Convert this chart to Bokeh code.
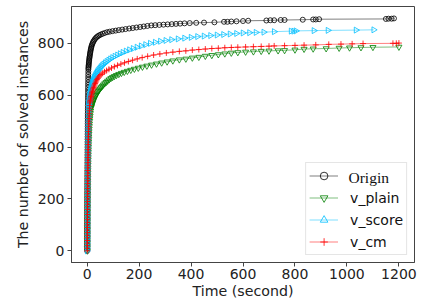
import numpy as np
from bokeh.plotting import figure
from bokeh.models import (Range1d, FixedTicker, Legend, LegendItem,
                          ColumnDataSource, Label)
from bokeh.embed import file_html
from bokeh.resources import INLINE

# ---- data: (time in seconds, cumulative number of solved instances) ----
origin_pts = [
    (0.1, 0), (0.1, 10), (0.1, 20), (0.2, 30), (0.2, 40), (0.2, 50), (0.2, 60), (0.3, 70), (0.3, 80), (0.3, 90), (0.3, 100),
    (0.4, 110), (0.4, 120), (0.4, 130), (0.5, 140), (0.5, 150), (0.5, 160), (0.6, 170), (0.6, 180), (0.6, 190), (0.7, 200),
    (0.7, 210), (0.7, 220), (0.8, 230), (0.8, 240), (0.9, 250), (0.9, 260), (1.0, 270), (1.0, 280), (1.1, 290), (1.1, 300),
    (1.2, 310), (1.2, 320), (1.3, 330), (1.3, 340), (1.4, 350), (1.4, 360), (1.5, 370), (1.6, 380), (1.6, 390), (1.7, 400),
    (1.8, 410), (1.8, 420), (1.9, 430), (2.0, 440), (2.0, 450), (2.1, 460), (2.2, 470), (2.3, 480), (2.3, 490), (2.4, 500),
    (2.5, 510), (2.6, 520), (2.7, 530), (2.8, 540), (2.9, 550), (3.0, 560), (3.1, 570), (3.2, 580), (3.3, 590), (3.4, 600),
    (3.5, 610), (3.6, 620), (3.7, 630), (3.9, 640), (4.0, 650), (4.2, 660), (4.3, 670), (4.5, 680), (4.7, 690), (4.9, 700),
    (5.2, 705), (5.6, 710), (6.0, 715), (6.4, 720), (6.9, 725), (7.4, 730), (8.0, 735), (8.6, 740), (9.2, 745), (9.9, 750),
    (10.6, 755), (11.4, 760), (12.2, 765), (13, 770), (14, 775), (15, 780), (16, 785), (17.5, 790), (19, 795), (21, 800),
    (23, 805), (26, 810), (29, 815), (33, 820), (37, 824), (42, 828), (47, 831), (53, 834), (60, 837), (68, 840),
    (77, 843), (87, 845), (98, 847), (110, 849), (122, 851), (135, 853), (148, 855), (162, 857), (176, 859), (190, 861),
    (204, 863), (218, 865), (232, 867), (247, 869), (262, 870), (278, 871), (294, 872), (310, 873), (326, 874), (342, 875),
    (358, 876), (375, 877), (395, 878), (420, 879), (450, 880), (490, 881), (527, 883), (540, 883), (555, 884), (575, 885),
    (600, 886), (620, 887), (690, 888), (705, 889), (720, 889), (745, 890), (760, 890), (830, 891), (870, 892), (880, 892),
    (893, 893), (1150, 894), (1160, 895), (1172, 895), (1181, 896),
]

plain_pts = [
    (1.0, 0), (1.0, 10), (1.1, 20), (1.1, 30), (1.2, 40), (1.2, 50), (1.3, 60), (1.3, 70), (1.4, 80), (1.4, 90), (1.5, 100),
    (1.5, 110), (1.6, 120), (1.7, 130), (1.7, 140), (1.8, 150), (1.9, 160), (2.0, 170), (2.0, 180), (2.1, 190), (2.2, 200),
    (2.3, 210), (2.4, 220), (2.5, 230), (2.6, 240), (2.7, 250), (2.8, 260), (2.9, 270), (3.0, 280), (3.2, 290), (3.3, 300),
    (3.5, 310), (3.6, 320), (3.8, 330), (4.0, 340), (4.2, 350), (4.4, 360), (4.6, 370), (4.8, 380), (5.1, 390), (5.4, 400),
    (5.7, 410), (6.0, 420), (6.4, 430), (6.8, 440), (7.2, 450), (7.7, 460), (8.2, 470), (8.8, 480), (9.4, 490), (10.1, 500),
    (10.9, 510), (11.8, 520), (12.8, 530), (13.9, 540), (15.1, 550),
    (16.4, 555), (17.8, 560), (19.3, 565), (21, 570), (22.8, 575), (24.7, 580), (26.7, 585), (28.9, 590), (31.2, 595), (33.7, 600),
    (36.4, 605), (39.3, 610), (42.5, 615), (46, 620), (50, 625), (54, 630), (58.5, 635), (63, 640), (68, 645), (73.5, 650),
    (79, 655), (85, 660), (91.5, 665), (98, 669), (105, 673), (113, 677), (122, 681), (132, 685), (143, 689), (155, 693),
    (168, 697), (182, 701), (197, 705), (213, 709), (230, 713), (248, 717), (267, 721), (287, 725), (308, 729), (330, 733),
    (355, 737), (380, 740), (405, 744), (430, 747), (455, 751), (480, 754), (505, 757), (530, 760), (555, 763), (580, 765),
    (610, 767), (640, 768), (670, 770), (700, 771), (735, 772), (760, 773), (800, 775), (835, 778), (870, 779), (920, 780),
    (970, 782), (1010, 783), (1054, 784), (1100, 785), (1200, 786),
]

score_pts = [
    (0.3, 0), (0.3, 10), (0.3, 20), (0.4, 30), (0.4, 40), (0.4, 50), (0.5, 60), (0.5, 70), (0.5, 80), (0.6, 90), (0.6, 100),
    (0.6, 110), (0.7, 120), (0.7, 130), (0.8, 140), (0.8, 150), (0.9, 160), (0.9, 170), (1.0, 180), (1.0, 190), (1.1, 200),
    (1.1, 210), (1.2, 220), (1.2, 230), (1.3, 240), (1.4, 250), (1.4, 260), (1.5, 270), (1.6, 280), (1.6, 290), (1.7, 300),
    (1.8, 310), (1.9, 320), (1.9, 330), (2.0, 340), (2.1, 350), (2.2, 360), (2.3, 370), (2.4, 380), (2.5, 390), (2.6, 400),
    (2.7, 410), (2.8, 420), (2.9, 430), (3.0, 440), (3.2, 450), (3.3, 460), (3.4, 470), (3.6, 480), (3.7, 490), (3.9, 500),
    (4.1, 510), (4.3, 520), (4.5, 530), (4.8, 540), (5.1, 550), (5.4, 560),
    (5.8, 565), (6.2, 570), (6.7, 575), (7.2, 580), (7.8, 585), (8.4, 590), (9.0, 595), (9.7, 600), (10.5, 605), (11.3, 610),
    (12.2, 615), (13.1, 620), (14.1, 625), (15.2, 630), (16.4, 635), (17.7, 640), (19, 645), (20.5, 650), (22, 655), (24, 660),
    (26, 665), (28, 670), (30.5, 675), (33, 680), (36, 685), (39, 690), (42, 695), (46, 700), (50, 705), (54, 710),
    (59, 715), (64, 720), (70, 725), (76, 730), (83, 735), (90, 740), (98, 745), (107, 750), (117, 755), (127, 760),
    (138, 765), (150, 770), (163, 775), (177, 780), (192, 785), (208, 790), (225, 795), (243, 800), (262, 804), (282, 808),
    (303, 811), (325, 814), (350, 817), (375, 820), (400, 823), (425, 826), (450, 828), (475, 830), (500, 832), (525, 834),
    (550, 836), (575, 838), (600, 840), (625, 841), (650, 842), (680, 843), (720, 845), (785, 847), (795, 847), (804, 848),
    (873, 849), (927, 850), (1035, 851), (1103, 852),
]

cm_pts = [
    (0.8, 0), (0.8, 10), (0.9, 20), (0.9, 30), (1.0, 40), (1.0, 50), (1.1, 60), (1.1, 70), (1.2, 80), (1.2, 90), (1.3, 100),
    (1.3, 110), (1.4, 120), (1.4, 130), (1.5, 140), (1.5, 150), (1.6, 160), (1.7, 170), (1.7, 180), (1.8, 190), (1.9, 200),
    (2.0, 210), (2.0, 220), (2.1, 230), (2.2, 240), (2.3, 250), (2.4, 260), (2.5, 270), (2.6, 280), (2.7, 290), (2.8, 300),
    (2.9, 310), (3.0, 320), (3.1, 330), (3.3, 340), (3.4, 350), (3.5, 360), (3.7, 370), (3.8, 380), (4.0, 390), (4.2, 400),
    (4.4, 410), (4.6, 420), (4.8, 430), (5.0, 440), (5.3, 450), (5.6, 460), (5.9, 470), (6.2, 480), (6.5, 490), (6.9, 500),
    (7.3, 510), (7.7, 520), (8.2, 530), (8.7, 540), (9.3, 550), (10, 560), (10.8, 570),
    (11.6, 575), (12.5, 580), (13.4, 585), (14.4, 590), (15.4, 595), (16.5, 600), (17.7, 605), (19, 610), (20.4, 615), (22, 620),
    (23.6, 625), (25.3, 630), (27, 635), (29, 640), (31, 645), (33, 650), (35.5, 655), (38, 660), (41, 665), (44.5, 670),
    (49, 675), (54, 680), (60, 685), (67, 690), (75, 695), (84, 700), (94, 705), (105, 710), (117, 715), (130, 720),
    (144, 725), (159, 730), (175, 735), (193, 740), (212, 745), (233, 750), (256, 755), (280, 759), (305, 763), (330, 766),
    (355, 769), (380, 771), (405, 774), (430, 776), (455, 778), (480, 780), (505, 781), (530, 783), (555, 784), (580, 785),
    (610, 786), (640, 787), (670, 788), (700, 789), (720, 790), (760, 791), (800, 792), (835, 793), (880, 794), (930, 796),
    (977, 797), (1020, 798), (1062, 799), (1177, 800), (1190, 800), (1200, 801),
]

series_names = ["Origin", "v_plain", "v_score", "v_cm"]
x_ticks = [0, 200, 400, 600, 800, 1000, 1200]
y_ticks = [0, 200, 400, 600, 800]

FONT = "DejaVu Sans"

p = figure(width=436, height=308, output_backend="svg", toolbar_location=None,
           x_range=Range1d(-60, 1260), y_range=Range1d(-45, 942),
           min_border_left=71, min_border_right=22, min_border_top=6,
           min_border_bottom=46)
p.background_fill_color = "white"
p.border_fill_color = "white"
p.outline_line_color = "#444444"
p.outline_line_width = 1
p.xgrid.visible = False
p.ygrid.visible = False

styles = [
    ("black", "circle", 0.0, 5),
    ("#008000", "inverted_triangle", 0.0, 6),
    ("#00bfff", "triangle", -np.pi / 2, 6),
    ("#ff0000", "cross", 0.0, 6),
]

items = []
for name, pts, (col, mk, ang, sz) in zip(series_names,
                                          [origin_pts, plain_pts, score_pts, cm_pts],
                                          styles):
    src = ColumnDataSource(dict(t=[a for a, b in pts], n=[b for a, b in pts],
                                ang=[ang] * len(pts)))
    ln = p.line("t", "n", source=src, line_color=col, line_alpha=0.5, line_width=1)
    sc = p.scatter("t", "n", source=src, marker=mk, size=sz, angle="ang",
                   line_color=col, line_alpha=0.8, fill_color=None, line_width=1)
    # the first entry is written in a serif face below, like the original
    lab = "" if name == "Origin" else name
    items.append(LegendItem(label=lab, renderers=[ln, sc], index=0))

legend = Legend(items=items, location="bottom_right", margin=7, padding=3,
                spacing=3, glyph_width=29, glyph_height=19, label_height=19,
                label_standoff=12, label_text_font=FONT,
                label_text_font_size="14px", label_text_color="#111111",
                border_line_color="#cccccc", border_line_width=1,
                background_fill_color="white", background_fill_alpha=0.0)
p.add_layout(legend)

# screen units here are measured from the frame's left / bottom edges
origin_label = Label(x=277, y=85, x_units="screen", y_units="screen",
                     text=series_names[0], text_font="Liberation Serif",
                     text_font_size="15.5px", text_color="#111111",
                     text_baseline="middle", text_align="left",
                     level="overlay")
p.add_layout(origin_label)

for ax in (p.xaxis[0], p.yaxis[0]):
    ax.major_label_text_font = FONT
    ax.major_label_text_font_size = "14px"
    ax.major_label_text_color = "#222222"
    ax.axis_label_text_font = FONT
    ax.axis_label_text_font_size = "14.2px"
    ax.axis_label_text_font_style = "normal"
    ax.axis_label_text_color = "#222222"
    ax.axis_line_color = "#444444"
    ax.major_tick_line_color = "#444444"
    ax.major_tick_out = 4
    ax.major_tick_in = 0
    ax.minor_tick_out = 0
    ax.minor_tick_in = 0

p.xaxis.ticker = FixedTicker(ticks=x_ticks)
p.yaxis.ticker = FixedTicker(ticks=y_ticks)
p.xaxis.axis_label = "Time (second)"
p.yaxis.axis_label = "The number of solved instances"
p.xaxis.major_label_standoff = 2
p.xaxis.axis_label_standoff = 1
p.yaxis.major_label_standoff = 3
p.yaxis.axis_label_standoff = 4

open("out.html", "w").write(file_html(p, INLINE))
